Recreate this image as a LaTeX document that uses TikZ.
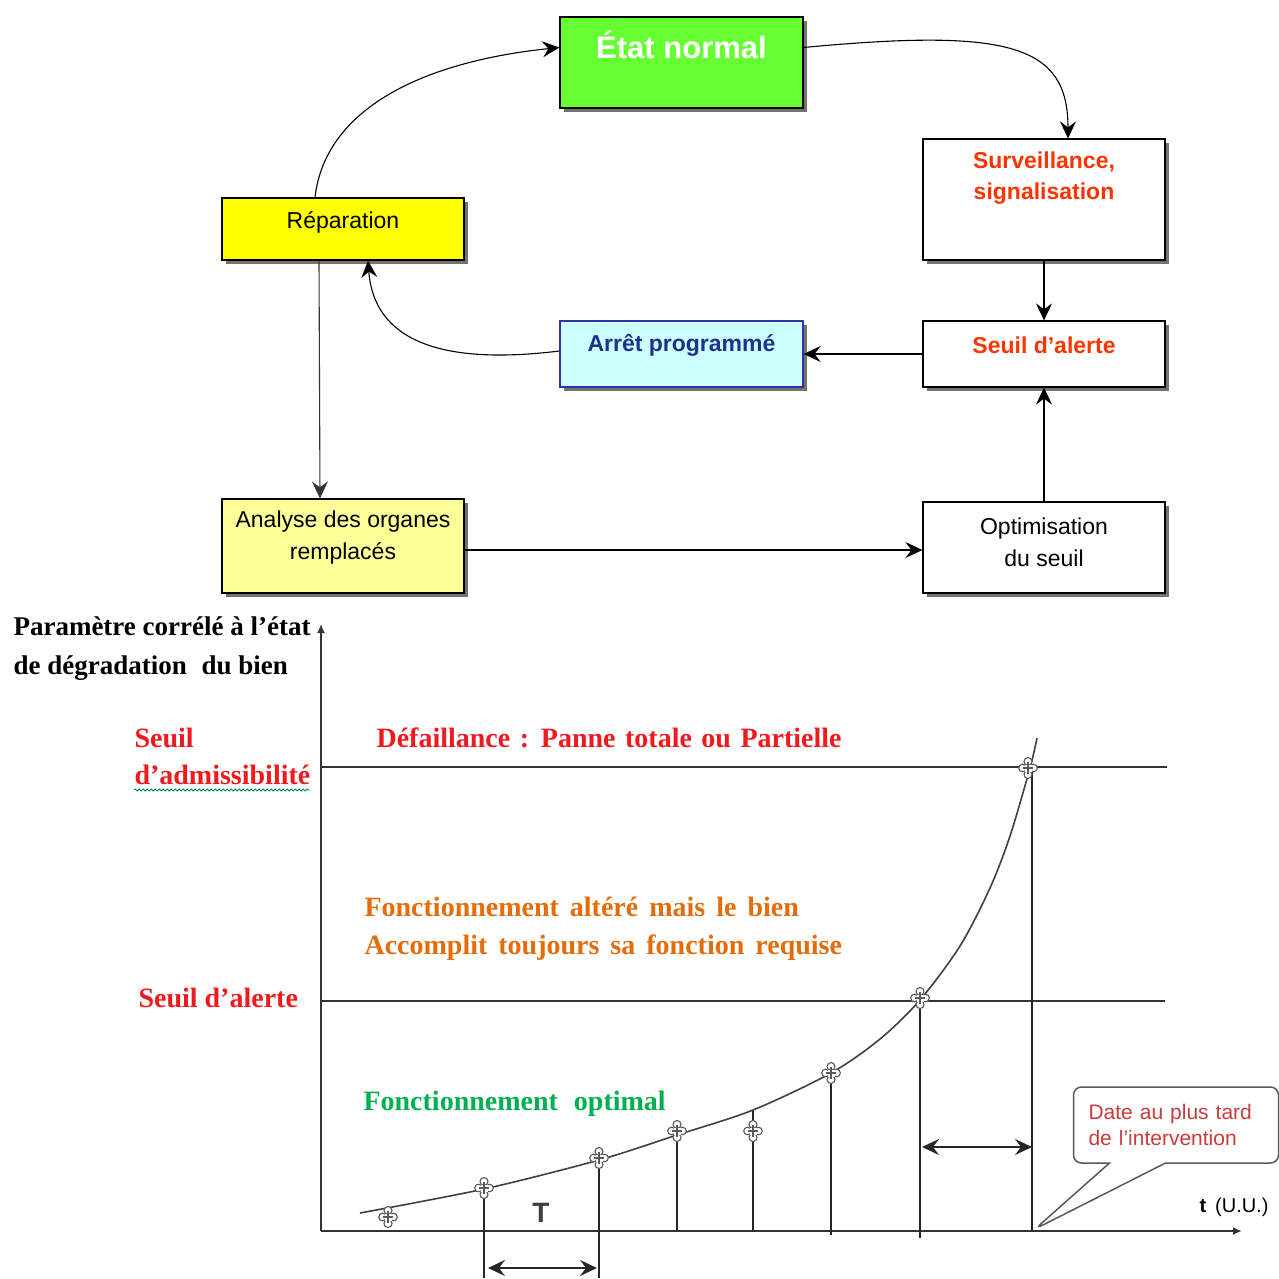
\documentclass[tikz,border=0pt]{standalone}
\usepackage{fontspec}
\setmainfont{Liberation Serif}
\setsansfont{Liberation Sans}
\usetikzlibrary{arrows.meta,shadows,shapes.callouts,decorations.pathmorphing}
\definecolor{figGreen}{RGB}{102,255,51}
\definecolor{figYellow}{RGB}{255,255,0}
\definecolor{figPale}{RGB}{255,255,153}
\definecolor{figCyan}{RGB}{204,255,255}
\definecolor{figNavy}{RGB}{30,50,140}
\definecolor{figBlue}{RGB}{50,50,170}
\definecolor{figRed}{RGB}{255,51,0}
\definecolor{graphRed}{RGB}{240,25,30}
\definecolor{graphOrange}{RGB}{228,108,10}
\definecolor{graphGreen}{RGB}{0,176,80}
\definecolor{noteRed}{RGB}{200,60,60}
\newcommand\fsz[2]{\fontsize{#1}{#2}\selectfont}

\begin{document}
\begin{tikzpicture}[x=1pt,y=-1pt,>={Stealth[length=17pt,width=16pt,inset=6pt]},
  box/.style={draw=black,line width=1.2pt,minimum width=242,
    drop shadow={shadow xshift=4pt,shadow yshift=-4pt,fill=black!55,opacity=1}},
  boxtxt/.style={align=center,font=\sffamily\fsz{23}{31}},
  flow/.style={line width=1.1pt},
  gtxt/.style={anchor=west,align=left,font=\bfseries\fsz{28}{38}},
  axis/.style={line width=2.2pt,black!80},
  stem/.style={line width=2.4pt,black!85},
  lobe/.style={draw=black!65,fill=white,line width=1.1pt}]
\useasboundingbox (0,0) rectangle (1279,1279);

% flow chart
\node[box,fill=figGreen,minimum width=243,minimum height=91] (etat) at (681.5,62.5) {};
\node[box,fill=white,minimum height=121] (surv) at (1044,199.5) {};
\node[box,fill=white,minimum height=66] (seuil) at (1044,354) {};
\node[box,fill=figCyan,draw=figBlue,minimum width=243,minimum height=66] (arret) at (681.5,354) {};
\node[box,fill=figYellow,minimum height=62] (rep) at (343,229) {};
\node[box,fill=figPale,minimum height=94] (ana) at (343,546) {};
\node[box,fill=white,minimum height=91] (opti) at (1044,547.5) {};

\node[boxtxt,text=white,font=\sffamily\bfseries\fsz{31}{36}] (etat-t) at (681.5,45) {État normal};
\node[boxtxt,text=figRed,font=\sffamily\bfseries\fsz{23}{31}] (surv-t) at (1044,178) {Surveillance,\\signalisation};
\node[boxtxt,text=figRed,font=\sffamily\bfseries\fsz{23}{31}] (seuil-t) at (1044,345) {Seuil d’alerte};
\node[boxtxt,text=figNavy,font=\sffamily\bfseries\fsz{23}{31}] (arret-t) at (681.5,345) {Arrêt programmé};
\node[boxtxt] (rep-t) at (343,222) {Réparation};
\node[boxtxt,font=\sffamily\fsz{23}{32}] (ana-t) at (343,538) {Analyse des organes\\remplacés};
\node[boxtxt,font=\sffamily\fsz{23}{32}] (opti-t) at (1044,542) {Optimisation\\du seuil};

\draw[flow,->] ([yshift=15pt]etat.east) .. controls (1010,28) and (1068,45) .. ([xshift=24pt]surv.north);
\draw[flow,->] (surv.south) -- (seuil.north);
\draw[flow,->] (seuil.west) -- (arret.east);
\draw[flow,->] ([yshift=3pt]arret.west) .. controls (470,362) and (375,355) .. ([xshift=25pt]rep.south);
\draw[flow,->] ([xshift=-28pt]rep.north) .. controls (325,110) and (420,62) .. ([yshift=15pt]etat.west);
\draw[flow,->,black!80] ([xshift=-24pt]rep.south) -- ([xshift=-23pt]ana.north);
\draw[flow,->] ([yshift=-4pt]ana.east) -- ([yshift=-2.5pt]opti.west);
\draw[flow,->] (opti.north) -- (seuil.south);

% graph
\coordinate (O) at (321,1231);
\draw[axis,-{Latex[length=9pt,width=8pt]}] (O) -- (321,624);
\draw[axis,-{Latex[length=9pt,width=8pt]}] (O) -- (1242,1231);
\draw[line width=1.8pt,black!80] (321,767) -- (1167,767);
\draw[line width=1.8pt,black!80] (321,1001) -- (1165,1001);

\foreach \px/\py/\pb in {484/1189/1278,599/1160/1278,677/1135/1231,753/1110/1231,831/1073/1235,920/1000/1238,1032/768/1231}
  \draw[stem] (\px,\py) -- (\px,\pb);

\draw[line width=1.6pt,black!75] plot[smooth,tension=0.5] coordinates
  {(360,1213) (484,1189) (599,1160) (677,1135) (753,1110) (831,1073) (880,1039) (920,1000) (960,946) (990,888) (1010,836) (1030,768) (1037,738)};

\foreach \px/\py in {388/1217,484/1188,599/1158,677/1131,753/1131,831/1073,920/998,1028/768}
{
  \begin{scope}[shift={(\px,\py)}]
    \draw[lobe] (0,-6.5) circle (4);
    \draw[lobe] (0,6.5) circle (4);
    \draw[lobe] (-5.5,0) circle (3.8);
    \draw[lobe] (5.5,0) circle (3.8);
    \fill[white] (-3.5,-3.5) rectangle (3.5,3.5);
    \draw[black!65,line width=1.1pt] (-5,0) -- (5,0) (0,-6) -- (0,6);
  \end{scope}
}

\draw[line width=1.8pt,black!85,<->] (488,1268) -- (597,1268);
\draw[line width=1.8pt,black!85,<->] (922,1147) -- (1032,1147);
\node[font=\sffamily\bfseries\fsz{28}{30},text=black!75] (tper) at (541,1213) {T};
\node[font=\sffamily\fsz{20}{22}] (tuu) at (1234,1207) {\textbf{t}\hspace{9pt}(U.U.)};

\node[rectangle callout,draw=black!65,line width=1.5pt,rounded corners=8pt,fill=white,
  minimum height=76,inner xsep=15pt,text width=175pt,align=left,
  callout absolute pointer={(1035,1229)},callout pointer width=56pt,
  text=noteRed,font=\sffamily\fsz{21}{26}] (date) at (1176,1125) {Date au plus tard\\de l’intervention};

\node[gtxt,font=\bfseries\fsz{27}{39}] (param) at (10,648.5) {Paramètre corrélé à l’état\\de dégradation\hspace{8pt} du bien};
\node[gtxt,text=graphRed,font=\bfseries\fsz{28}{37}] (sadm) at (131,756.5) {Seuil\\d’admissibilité};
\draw[graphGreen!80!black,line width=0.8pt,decorate,decoration={snake,amplitude=1.1pt,segment length=4pt}] (134,790) -- (310,790);
\node[gtxt,text=graphRed] (defa) at (373,738) {\spaceskip=9.5pt Défaillance : Panne totale ou Partielle};
\node[gtxt,text=graphOrange] (alt) at (361,929) {\spaceskip=11pt Fonctionnement altéré mais le bien\\\spaceskip=11pt Accomplit toujours sa fonction requise};
\node[gtxt,text=graphRed] (salr) at (135,998) {Seuil d’alerte};
\node[gtxt,text=graphGreen] (opt) at (360,1104) {Fonctionnement\hspace{9pt} optimal};
\end{tikzpicture}
\end{document}
